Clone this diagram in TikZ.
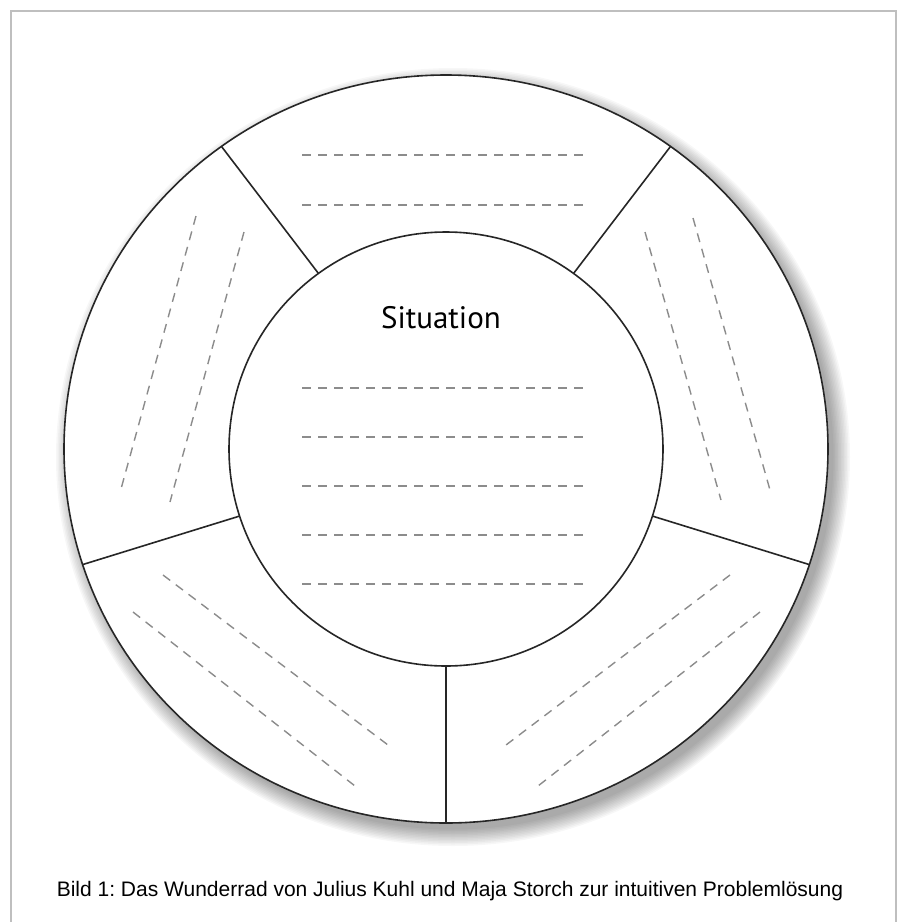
\documentclass[tikz,border=0pt]{standalone}
\usepackage{fontspec}
\setmainfont{Liberation Sans}
\newfontfamily\sitfont{PT Sans}
\frenchspacing
\begin{document}
\begin{tikzpicture}[x=0.5pt,y=-0.5pt,
  wheelline/.style={draw=black!85, line width=0.8pt},
  dashline/.style={draw=black!45, line width=0.7pt, dash pattern=on 4.5pt off 3.5pt},
  framestyle/.style={draw=black!25, line width=1pt}]
\useasboundingbox (0,0) rectangle (898,922);
\fill[white] (0,0) rectangle (898,922);
% frame
\draw[framestyle] (11,940) -- (11,11) -- (896,11) -- (896,940);
% shadow
\foreach \i in {0,...,11} {
  \fill[black, opacity=0.03] (453,457) ellipse [x radius={397-\i*1.5}, y radius={389-\i*1.5}];
}
% wheel
\coordinate (c) at (446,449);
\filldraw[wheelline, fill=white] (c) ellipse [x radius=382, y radius=374];
\begin{scope}[shift={(446,449)}, yscale=-1]
  \foreach \a [count=\k] in {-90,-18,54,126,198} {
    \coordinate (in\k) at (\a:217);
    \coordinate (out\k) at ({382*cos(\a)},{374*sin(\a)});
    \draw[wheelline] (in\k) -- (out\k);
  }
\end{scope}
\filldraw[wheelline, fill=white] (c) circle [radius=217];
\node[font=\sitfont\fontsize{15.5}{18}\selectfont] (sit) at (441,318) {Situation};
% dashed lines, inner
\foreach \y in {388,437,486,535,584} {
  \draw[dashline] (302,\y) -- (587,\y);
}
% top segment
\draw[dashline] (302,155) -- (587,155);
\draw[dashline] (302,205) -- (587,205);
% left segment
\draw[dashline] (196,216) -- (121,489);
\draw[dashline] (244,232) -- (170,502);
% right segment
\draw[dashline] (645,232) -- (721,500);
\draw[dashline] (693,218) -- (770,490);
% bottom-left segment
\draw[dashline] (163,575) -- (388,745);
\draw[dashline] (133,612) -- (355,786);
% bottom-right segment
\draw[dashline] (730,575) -- (506,745);
\draw[dashline] (760,612) -- (538,786);
% caption
\node[font=\fontsize{10.5}{12.5}\selectfont, anchor=base] (cap) at (450,896) {Bild 1: Das Wunderrad von Julius Kuhl und Maja Storch zur intuitiven Problemlösung};
\end{tikzpicture}
\end{document}
